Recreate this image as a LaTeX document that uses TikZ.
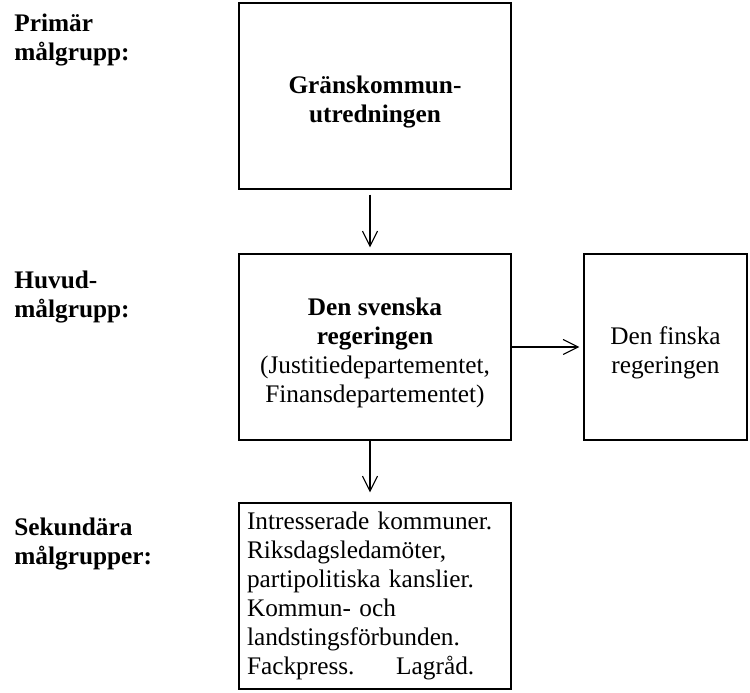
\documentclass[tikz,border=0pt]{standalone}
\usepackage{fontspec}
\setmainfont{Liberation Serif}
\usetikzlibrary{arrows.meta}
\newcommand{\luft}{\rule{0pt}{0.6cm}}

\begin{document}
\begin{tikzpicture}[
	ruta/.style={draw, line width=0.8pt, minimum width=5.44cm, minimum height=3.72cm, align=center, font=\fontsize{14.4}{16.5}\selectfont},
	rubrik/.style={anchor=north west, inner sep=0pt, align=left, font=\fontsize{14.4}{16.2}\selectfont\bfseries},
	pil/.style={-{Straight Barb[length=0.3cm,width=0.3cm]}, line width=0.6pt}
]
	\useasboundingbox (0,0) rectangle (15,13.86);
	% rubriker
	\node[rubrik] (prim) at (0.28,13.58) {Primär\\målgrupp:};
	\node[rubrik] (huvud) at (0.28,8.44) {Huvud-\\målgrupp:};
	\node[rubrik] (sek) at (0.28,3.5) {Sekundära\\målgrupper:};
	% rutor
	\node[ruta] (gk) at (7.5,11.94) {\luft\textbf{Gränskommun-}\\\textbf{utredningen}};
	\node[ruta] (sv) at (7.5,6.92) {\luft\textbf{Den svenska}\\\textbf{regeringen}\\(Justitiedepartementet,\\Finansdepartementet)};
	\node[ruta, minimum width=3.26cm] (fi) at (13.31,6.92) {\luft Den finska\\regeringen};
	\node[ruta, align=left, text width=5.12cm, inner xsep=0.16cm] (sek box) at (7.5,1.94)
		{Intresserade kommuner.\\Riksdagsledamöter,\\partipolitiska kanslier.\\Kommun- och\\landstingsförbunden.\\Fackpress.\hspace{1.65em}Lagråd.};
	% pilar
	\draw[pil, shorten <=0.1cm, shorten >=0.12cm] ([xshift=-0.1cm]gk.south) -- ([xshift=-0.1cm]sv.north);
	\draw[pil, shorten >=0.2cm] ([xshift=-0.1cm]sv.south) -- ([xshift=-0.1cm]sek box.north);
	\draw[pil, shorten >=0.08cm] (sv.east) -- (fi.west);
\end{tikzpicture}
\end{document}
